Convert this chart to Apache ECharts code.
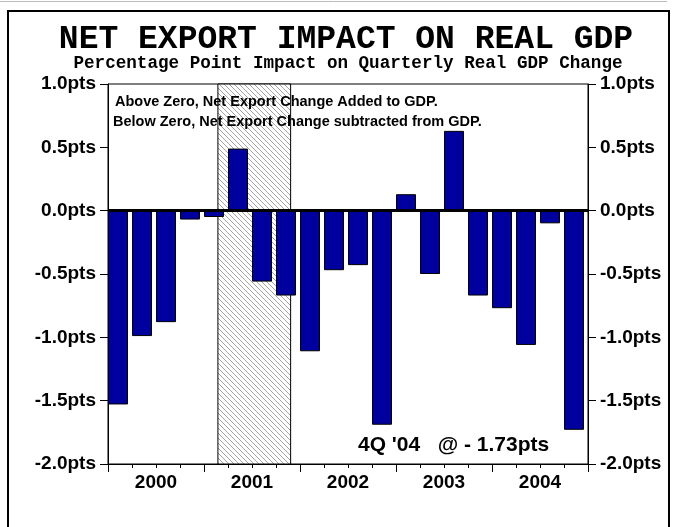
<!DOCTYPE html>
<html>
<head>
<meta charset="utf-8">
<script src="https://cdn.jsdelivr.net/npm/echarts@6/dist/echarts.min.js"></script>
<style>
html,body{margin:0;padding:0;background:#fff;}
#chart{width:676px;height:527px;}
</style>
</head>
<body>
<div id="chart"></div>
<script>
// ---- data ----
const quarters = ['2000Q1','2000Q2','2000Q3','2000Q4','2001Q1','2001Q2','2001Q3','2001Q4',
  '2002Q1','2002Q2','2002Q3','2002Q4','2003Q1','2003Q2','2003Q3','2003Q4',
  '2004Q1','2004Q2','2004Q3','2004Q4'];
const years = ['2000','2001','2002','2003','2004'];
const netExportImpact = [-1.53,-0.99,-0.88,-0.07,-0.05,0.49,-0.56,-0.67,
  -1.11,-0.47,-0.43,-1.69,0.13,-0.50,0.63,-0.67,
  -0.77,-1.06,-0.10,-1.73];
// recession shading, in quarter units from start of 2000 (Mar 2001 - Nov 2001)
const recession = [4.58, 7.61];
const titleText = 'NET EXPORT IMPACT ON REAL GDP';
const subtitleText = 'Percentage Point Impact on Quarterly Real GDP Change';
const note1 = 'Above Zero, Net Export Change Added to GDP.';
const note2 = 'Below Zero, Net Export Change subtracted from GDP.';
const lastNote = "4Q '04   @ - 1.73pts";

// hatch pattern
const S = 5;
const pc = document.createElement('canvas'); pc.width = S; pc.height = S;
const g = pc.getContext('2d');
g.fillStyle = '#ffffff'; g.fillRect(0,0,S,S);
g.strokeStyle = '#8c8c8c'; g.lineWidth = 0.8;
g.beginPath();
g.moveTo(0,0); g.lineTo(S,S);
g.moveTo(-S,0); g.lineTo(0,S);
g.moveTo(0,-S); g.lineTo(S,0);
g.stroke();

const chart = echarts.init(document.getElementById('chart'), null, {renderer:'canvas'});
const monoFont = "'Courier New', 'Liberation Mono', monospace";
const sansFont = "Arial, 'Liberation Sans', sans-serif";
const yLabel = v => v.toFixed(1) + 'pts';

chart.setOption({
  animation: false,
  backgroundColor: '#ffffff',
  title: [
    {text: titleText, left: 341, top: 18, textAlign: 'center', padding: 5,
     textStyle: {fontFamily: monoFont, fontSize: 33, fontWeight: 'bold', color: '#000'}},
    {text: subtitleText, left: 343, top: 50, textAlign: 'center', padding: 5,
     textStyle: {fontFamily: monoFont, fontSize: 17.6, fontWeight: 'bold', color: '#000'}}
  ],
  grid: {left: 108, right: 88, top: 84, bottom: 63, show: true, borderColor: '#000', borderWidth: 1, containLabel: false},
  xAxis: [
    {type: 'category', data: quarters, position: 'bottom', boundaryGap: true,
     axisLine: {show: true, onZero: false, lineStyle: {color: '#000', width: 1}},
     axisTick: {show: true, interval: 0, length: 4, lineStyle: {color: '#000'}},
     axisLabel: {show: false}, splitLine: {show: false}},
    {type: 'category', data: years, position: 'bottom', boundaryGap: true,
     axisLine: {show: false, onZero: false},
     axisTick: {show: true, interval: 0, length: 8, lineStyle: {color: '#000'}},
     axisLabel: {show: true, interval: 0, margin: 9, fontFamily: sansFont, fontSize: 19, fontWeight: 'bold', color: '#000'},
     splitLine: {show: false}},
    {type: 'value', min: 0, max: quarters.length, position: 'top', show: false}
  ],
  yAxis: [
    {type: 'value', min: -2, max: 1, interval: 0.5, position: 'left',
     axisLine: {show: true, lineStyle: {color: '#000'}},
     axisTick: {show: true, length: 8, lineStyle: {color: '#000'}},
     axisLabel: {formatter: yLabel, margin: 12, fontFamily: sansFont, fontSize: 19, fontWeight: 'bold', color: '#000'},
     splitLine: {show: false}},
    {type: 'value', min: -2, max: 1, interval: 0.5, position: 'right',
     axisLine: {show: true, lineStyle: {color: '#000'}},
     axisTick: {show: true, length: 8, lineStyle: {color: '#000'}},
     axisLabel: {formatter: yLabel, margin: 12, fontFamily: sansFont, fontSize: 19, fontWeight: 'bold', color: '#000'},
     splitLine: {show: false}}
  ],
  series: [
    {type: 'line', xAxisIndex: 2, yAxisIndex: 0, data: [], z: 1, silent: true,
     markArea: {silent: true,
       itemStyle: {color: {image: pc, repeat: 'repeat'}, borderColor: '#000', borderWidth: 1},
       data: [[{xAxis: recession[0]}, {xAxis: recession[1]}]]}},
    {type: 'bar', name: 'Net exports', xAxisIndex: 0, yAxisIndex: 0, data: netExportImpact,
     barWidth: 20, barGap: '0%', z: 3,
     itemStyle: {color: '#00009e', borderColor: '#000', borderWidth: 1},
     markLine: {silent: true, symbol: 'none', label: {show: false},
       lineStyle: {color: '#000', width: 3, type: 'solid'},
       data: [{yAxis: 0}]}},
    {type: 'bar', name: 'spacer', xAxisIndex: 0, yAxisIndex: 0, data: [], barWidth: 4, barGap: '0%',
     itemStyle: {color: 'transparent'}, silent: true}
  ],
  graphic: [
    {type: 'rect', shape: {x: 8, y: 11, width: 661, height: 530}, style: {fill: 'none', stroke: '#000', lineWidth: 2}, silent: true},
    {type: 'line', shape: {x1: 0, y1: 1.5, x2: 667, y2: 1.5}, style: {stroke: '#bbb', lineWidth: 1}, silent: true},
    {type: 'text', left: 115, top: 94, z: 10, style: {text: note1, fontFamily: sansFont, fontSize: 14.5, fontWeight: 'bold', fill: '#000'}},
    {type: 'text', left: 113, top: 114, z: 10, style: {text: note2, fontFamily: sansFont, fontSize: 14.5, fontWeight: 'bold', fill: '#000'}},
    {type: 'text', left: 358, top: 435, z: 10, style: {text: lastNote, fontFamily: sansFont, fontSize: 21, fontWeight: 'bold', fill: '#000'}}
  ]
});
</script>
</body>
</html>
